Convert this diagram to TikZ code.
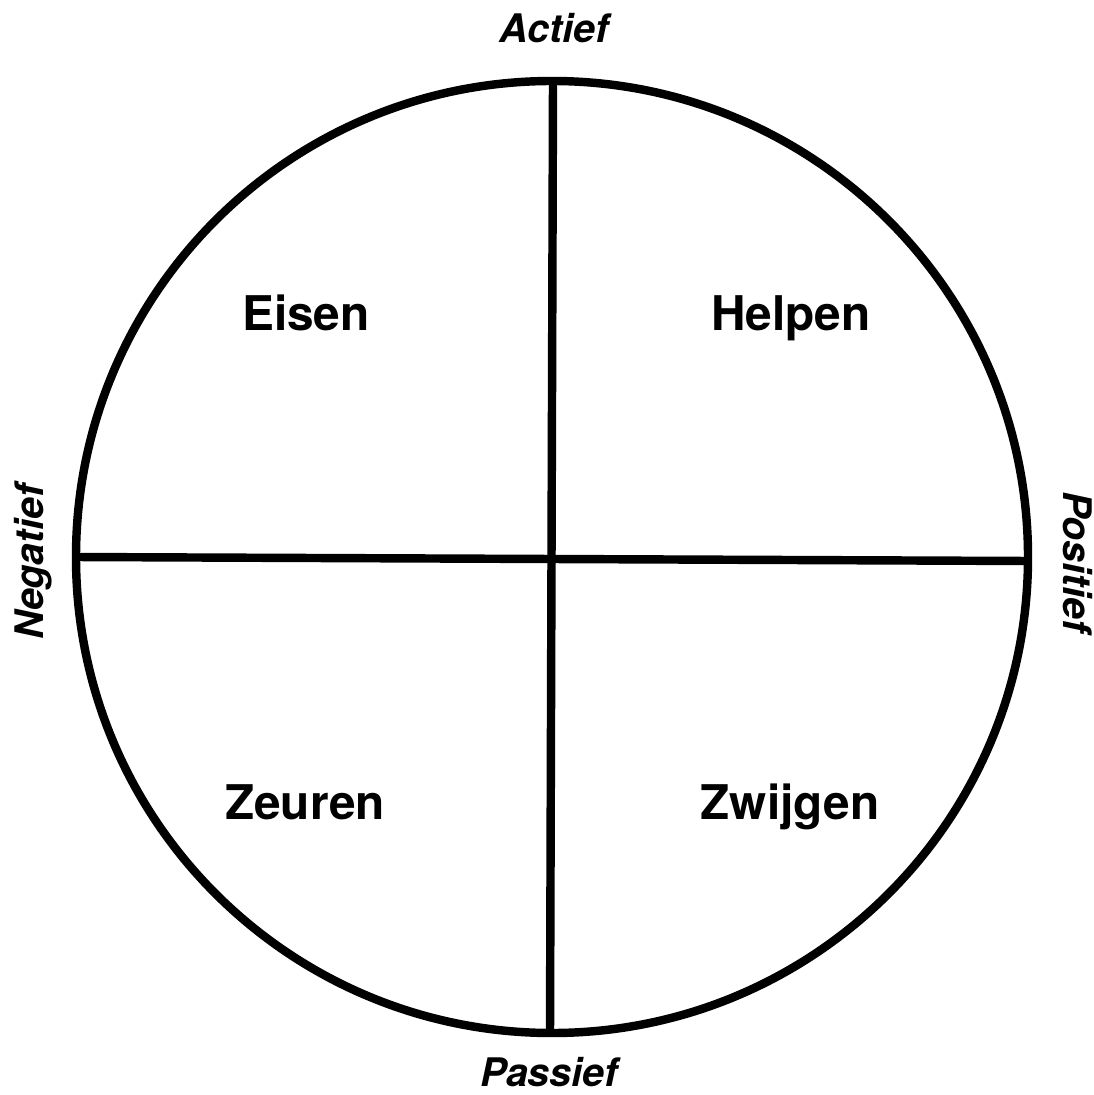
\documentclass[tikz,border=0pt]{standalone}
\usepackage{fontspec}
\setmainfont{TeX Gyre Heros}
\usetikzlibrary{positioning}

\begin{document}
\begin{tikzpicture}[
  x=0.025cm, y=-0.025cm,
  rim/.style={draw=black, line width=6pt},
  axis/.style={draw=black, line width=6pt},
  quad/.style={font=\fontsize{34}{40}\selectfont\bfseries, anchor=base},
  pole/.style={font=\fontsize{28}{33}\selectfont\bfseries\itshape, anchor=base}
]
  \useasboundingbox (0,0) rectangle (1093,1095);
  \coordinate (mid) at (552,557);
  \coordinate (top) at (553,82);
  \coordinate (bot) at (550,1032);
  \coordinate (lft) at (76,557);
  \coordinate (rgt) at (1029,561);
  \draw[rim] (mid) circle[radius=476];
  \draw[axis] (top)--(bot);
  \draw[axis] (lft)--(rgt);
  \node[quad] (eisen) at (306,331) {Eisen};
  \node[quad] (helpen) at (791,331) {Helpen};
  \node[quad] (zeuren) at (305,819) {Zeuren};
  \node[quad] (zwijgen) at (790,819) {Zwijgen};
  \node[pole] (actief) at (554,43) {Actief};
  \node[pole] (passief) at (549,1086) {Passief};
  \node[pole, rotate=90] (negatief) at (43,562) {Negatief};
  \node[pole, rotate=-90] (positief) at (1063,562) {Positief};
\end{tikzpicture}
\end{document}
